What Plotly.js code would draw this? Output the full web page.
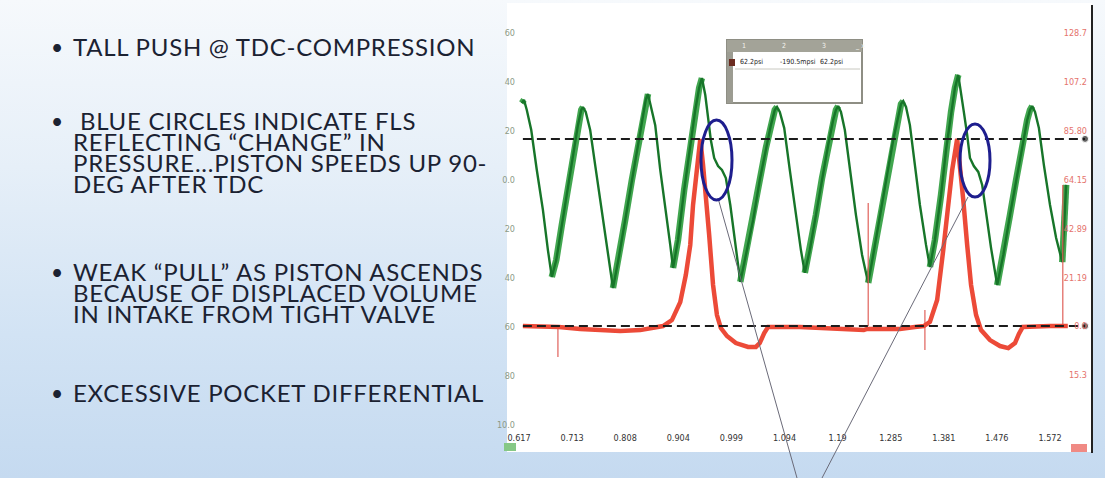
<!DOCTYPE html>
<html><head><meta charset="utf-8">
<script src="https://cdn.plot.ly/plotly-3.0.1.min.js"></script>
<style>
html,body{margin:0;padding:0;}
body{position:relative;width:1105px;height:478px;overflow:hidden;background:linear-gradient(180deg,#f6f9fc 0%,#e6eff8 35%,#d2e3f4 70%,#c5daf0 100%);}
#chart{position:absolute;left:0;top:0;width:1105px;height:478px;}
.blk{position:absolute;left:0;width:500px;font-family:Lato,"Open Sans",sans-serif;font-size:24px;line-height:21px;color:#1b2232;}
.dot{position:absolute;left:51px;top:0;font-size:21px;}
.txt{position:absolute;left:73px;top:0;white-space:pre;letter-spacing:0.75px;}
</style></head><body><div id="chart"></div><div id="slide"></div>
<script>
// ---- axis ticks ----
const xTickVals = [0.617, 0.7125, 0.808, 0.9035, 0.999, 1.0945, 1.19, 1.2855, 1.381, 1.4765, 1.572];
const xTickText = ["0.617","0.713","0.808","0.904","0.999","1.094","1.19","1.285","1.381","1.476","1.572"];
const leftTickVals = [60, 40, 20, 0, -20, -40, -60, -80, -100];
const leftTickText = ["60","40","20","0.0","20","40","60","80","10.0"];
const rightTickVals = [128.7, 107.2, 85.8, 64.15, 42.89, 21.19, 0, -21.45];
const rightTickText = ["128.7","107.2","85.80","64.15","42.89","21.19","0.0","15.3"];

// ---- green trace (left axis, psi) ----
const greenT = [0.622,0.626,0.631,0.639,0.649,0.660,0.669,0.676,0.684,0.694,0.705,0.716,0.723,0.729,0.732,0.737,0.745,
 0.754,0.763,0.774,0.781,0.786,0.795,0.808,0.820,0.831,0.840,0.845,0.849,0.854,0.862,0.871,0.880,0.889,0.894,
 0.903,0.914,0.925,0.934,0.941,0.946,0.952,0.957,0.962,0.968,0.975,0.982,0.989,0.997,1.006,1.015,
 1.025,1.038,1.050,1.061,1.070,1.077,1.081,1.086,1.094,1.104,1.115,1.124,1.131,
 1.140,1.151,1.162,1.173,1.182,1.187,1.191,1.196,1.203,1.212,1.223,1.234,1.245,
 1.254,1.266,1.279,1.290,1.299,1.304,1.308,1.313,1.320,1.329,1.338,1.349,1.356,
 1.365,1.376,1.385,1.394,1.401,1.407,1.412,1.417,1.423,1.428,1.435,1.443,1.450,1.457,1.466,1.477,
 1.488,1.500,1.511,1.522,1.531,1.536,1.540,1.545,1.552,1.561,1.572,1.583,1.594,1.597,1.601];
const greenP = [31.4,32.7,28.6,20.4,4.1,-12.2,-28.6,-39.6,-32.7,-18.4,-4.1,12.3,22.4,28.6,29.8,27.8,20.4,
 6.1,-8.2,-24.5,-35.9,-44.1,-33.5,-16.3,0.0,14.3,25.3,32.7,35.1,30.6,22.4,4.1,-10.2,-26.5,-35.9,
 -24.5,-4.1,14.3,28.6,37.6,41.6,34.7,25.3,16.3,9.0,5.7,4.1,0.8,-10.2,-25.7,-41.6,
 -30.6,-16.3,0.0,13.1,22.4,28.6,29.8,27.8,21.2,4.1,-14.3,-28.6,-37.9,
 -28.6,-14.3,0.8,14.3,24.5,28.6,30.2,27.8,20.4,4.1,-14.3,-30.6,-42.0,
 -30.6,-14.3,2.1,16.3,26.5,31.0,32.2,29.8,22.4,6.1,-10.2,-26.5,-35.5,
 -24.5,-6.1,12.3,27.8,37.6,42.9,35.9,27.8,18.4,9.0,5.7,3.3,-2.0,-13.1,-27.8,-42.9,
 -30.6,-14.3,0.0,14.3,24.5,28.6,30.2,27.8,21.2,6.1,-10.2,-23.7,-33.5,-20.4,-2.0];

// ---- red trace (right axis) ----
const redT = [0.624,0.664,0.685,0.689,0.727,0.763,0.799,0.835,0.862,0.876,0.892,0.907,0.917,0.925,0.930,0.937,0.943,
 0.948,0.953,0.959,0.966,0.973,0.980,0.991,1.007,1.029,1.043,1.050,1.058,1.065,
 1.122,1.176,1.230,1.237,1.243,1.247,1.302,1.329,1.345,1.356,1.369,1.380,1.389,1.396,1.405,
 1.410,1.416,1.423,1.430,1.439,1.448,1.464,1.482,1.497,1.509,1.516,1.523,1.572,1.594,1.604];
const redV = [0,-0.4,-0.4,-0.4,-1.3,-1.8,-2.2,-1.8,-0.4,0,2.6,10.5,22.4,35.6,53.2,70.7,82.2,
 70.7,57.6,40.0,18.0,4.8,-0.9,-4.4,-7.5,-9.2,-9.2,-7.5,-3.1,-0.4,
 -0.4,-0.9,-1.8,-1.8,-1.3,-1.3,-1.3,-0.4,0,1.8,11.4,33.4,55.4,68.5,82.2,
 70.7,55.4,35.6,18.0,4.8,-1.8,-6.2,-8.8,-9.7,-7.5,-3.5,-0.4,0,0,0];
// thin vertical glitches on the red channel
const spikeT = [0.687, 1.245, 1.347, 1.595];
const spikeLow = [-13.6, 0, -10.5, 0];
const spikeHigh = [-0.4, 54.0, 7.0, 62.0];

// ---- dashed reference levels (right axis) ----
const refT = [0.624, 1.635];
const upperRef = 82.2;
const lowerRef = 0;

// ---- popup readout texts ----
const readoutHeader = ["1", "2", "3", "_ x"];
const readoutValues = ["62.2psi", "-190.5mpsi", "62.2psi"];

// ---- slide bullets ----
const bullets = [
  ["TALL PUSH @ TDC-COMPRESSION"],
  [" BLUE CIRCLES INDICATE FLS", "REFLECTING \u201CCHANGE\u201D IN", "PRESSURE...PISTON SPEEDS UP 90-", "DEG AFTER TDC"],
  ["WEAK \u201CPULL\u201D AS PISTON ASCENDS", "BECAUSE OF DISPLACED VOLUME", "IN INTAKE FROM TIGHT VALVE"],
  ["EXCESSIVE POCKET DIFFERENTIAL"]
];

// ---------------- build ----------------
const bandX = [], bandY = [];
for (let i = 1; i < greenT.length; i++) {
  if (greenP[i] > greenP[i-1]) {
    if (!(i > 1 && greenP[i-1] > greenP[i-2])) { bandX.push(null, greenT[i-1]); bandY.push(null, greenP[i-1]); }
    bandX.push(greenT[i]); bandY.push(greenP[i]);
  }
}
const spX = [], spY = [];
spikeT.forEach((t, i) => { spX.push(t, t, null); spY.push(spikeLow[i], spikeHigh[i], null); });

const tickFam = "Liberation Sans Narrow, DejaVu Sans Condensed, Arial Narrow, sans-serif";

const traces = [
  {x: bandX, y: bandY, mode: 'lines', line: {color: 'rgba(44,156,60,0.9)', width: 6.5}, yaxis: 'y', connectgaps: false},
  {x: greenT, y: greenP, mode: 'lines', line: {color: '#177529', width: 2.4}, yaxis: 'y'},
  {x: spX, y: spY, mode: 'lines', line: {color: '#e0605a', width: 1.2}, yaxis: 'y2', connectgaps: false},
  {x: redT, y: redV, mode: 'lines', line: {color: '#ec4a38', width: 4.5}, yaxis: 'y2'},
  {x: refT, y: [upperRef, upperRef], mode: 'lines+markers', line: {color: '#1c1c1c', width: 2, dash: '9px,5px'},
   marker: {size: [0, 7], color: '#1c1c1c'}, yaxis: 'y2'},
  {x: refT, y: [lowerRef, lowerRef], mode: 'lines+markers', line: {color: '#1c1c1c', width: 2, dash: '9px,5px'},
   marker: {size: [0, 7], color: '#1c1c1c'}, yaxis: 'y2'}
];

// pixel helpers for decorations (plot area: x 516..1090, y 20..427)
const PX = px => (px - 516) / 574;
const PY = py => (427 - py) / 407;

const shapes = [
  {type: 'rect', xref: 'paper', yref: 'paper', x0: PX(507), x1: PX(1092), y0: PY(452), y1: PY(3),
   fillcolor: '#ffffff', line: {width: 0}, layer: 'below'},
  {type: 'line', xref: 'paper', yref: 'paper', x0: PX(1092), x1: PX(1092), y0: PY(453), y1: PY(5),
   line: {color: '#222', width: 2}},
  {type: 'rect', xref: 'paper', yref: 'paper', x0: PX(504), x1: PX(516), y0: PY(451), y1: PY(443),
   fillcolor: '#86c886', line: {width: 0}},
  {type: 'rect', xref: 'paper', yref: 'paper', x0: PX(1071), x1: PX(1087), y0: PY(452), y1: PY(444),
   fillcolor: '#f08a84', line: {width: 0}},
  {type: 'rect', xref: 'paper', yref: 'paper', x0: PX(727), x1: PX(862), y0: PY(103), y1: PY(40),
   fillcolor: '#ffffff', line: {color: '#8e8e84', width: 2}},
  {type: 'rect', xref: 'paper', yref: 'paper', x0: PX(727), x1: PX(862), y0: PY(52), y1: PY(40),
   fillcolor: '#a3a398', line: {width: 0}},
  {type: 'rect', xref: 'paper', yref: 'paper', x0: PX(727), x1: PX(733), y0: PY(103), y1: PY(52),
   fillcolor: '#9c9c92', line: {width: 0}},
  {type: 'rect', xref: 'paper', yref: 'paper', x0: PX(729), x1: PX(735), y0: PY(66), y1: PY(59),
   fillcolor: '#6a2a1e', line: {width: 0}},
  {type: 'line', xref: 'paper', yref: 'paper', x0: PX(735), x1: PX(860), y0: PY(69), y1: PY(69),
   line: {color: '#c8c8c0', width: 1}},
  {type: 'line', xref: 'paper', yref: 'paper', x0: PX(718), y0: PY(198), x1: PX(797), y1: PY(478),
   line: {color: '#6a6a78', width: 1}},
  {type: 'line', xref: 'paper', yref: 'paper', x0: PX(968), y0: PY(197), x1: PX(822), y1: PY(478),
   line: {color: '#6a6a78', width: 1}},
  {type: 'circle', xref: 'paper', yref: 'paper', x0: PX(701), x1: PX(732), y0: PY(200), y1: PY(120),
   line: {color: '#1e1e8e', width: 3}},
  {type: 'circle', xref: 'paper', yref: 'paper', x0: PX(960), x1: PX(990), y0: PY(197), y1: PY(124),
   line: {color: '#1e1e8e', width: 3}}
];

const annotations = [];
const headerX = [740, 780, 820, 853];
readoutHeader.forEach((t, i) => annotations.push({xref: 'paper', yref: 'paper', x: PX(headerX[i]), y: PY(46),
  text: t, showarrow: false, xanchor: 'left', yanchor: 'middle', font: {family: tickFam, size: 7, color: '#f4f4ee'}}));
const valX = [738, 778, 818];
readoutValues.forEach((t, i) => annotations.push({xref: 'paper', yref: 'paper', x: PX(valX[i]), y: PY(62),
  text: t, showarrow: false, xanchor: 'left', yanchor: 'middle', font: {family: tickFam, size: 7, color: '#222'}}));

const layout = {
  width: 1105, height: 478,
  margin: {l: 516, r: 15, t: 20, b: 51},
  paper_bgcolor: 'rgba(0,0,0,0)', plot_bgcolor: 'rgba(0,0,0,0)',
  showlegend: false, hovermode: false,
  xaxis: {range: [0.6116, 1.6439], tickvals: xTickVals, ticktext: xTickText, showgrid: false, zeroline: false,
    showline: false, ticks: '', ticklabelstandoff: 4, tickfont: {family: tickFam, size: 9, color: '#333'}},
  yaxis: {range: [-100.82, 65.31], tickvals: leftTickVals, ticktext: leftTickText, showgrid: false, zeroline: false,
    showline: false, ticks: '', tickfont: {family: tickFam, size: 9, color: '#8c9a86'}},
  yaxis2: {range: [-44.38, 134.45], overlaying: 'y', side: 'right', anchor: 'x', tickvals: rightTickVals,
    ticktext: rightTickText, ticklabelposition: 'inside', showgrid: false, zeroline: false, showline: false, ticks: '',
    tickfont: {family: tickFam, size: 9, color: '#e5736c'}},
  shapes: shapes,
  annotations: annotations
};

Plotly.newPlot('chart', traces, layout, {staticPlot: true, displayModeBar: false});

// slide bullet text: one paragraph per bullet, tight PowerPoint-like leading
const blockTop = [36, 110, 261, 382];
const slide = document.getElementById('slide');
bullets.forEach((lines, b) => {
  const blk = document.createElement('div');
  blk.className = 'blk';
  blk.style.top = blockTop[b] + 'px';
  const dot = document.createElement('span');
  dot.className = 'dot'; dot.textContent = '\u2022';
  const txt = document.createElement('div');
  txt.className = 'txt';
  txt.textContent = lines.join('\n');
  blk.appendChild(dot); blk.appendChild(txt);
  slide.appendChild(blk);
});
</script></body></html>
